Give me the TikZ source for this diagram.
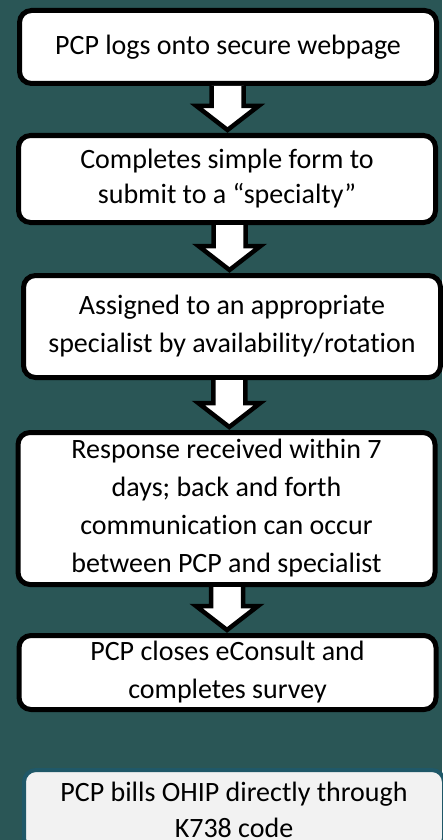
\documentclass[tikz,border=0pt]{standalone}
\usepackage{fontspec}
\setmainfont{Carlito}[Ligatures={NoCommon}]
\usepackage{tikz}
\usetikzlibrary{calc,positioning}

\definecolor{bgteal}{RGB}{42,86,86}
\definecolor{billedge}{RGB}{31,88,104}
\definecolor{billfill}{RGB}{242,242,242}

\tikzset{
	stepbox/.style={rectangle, draw, line width=5pt, fill=white, rounded corners=12pt, minimum width=417pt, align=center, font=\fontsize{28pt}{38pt}\selectfont},
	billbox/.style={stepbox, draw=billedge, fill=billfill, line width=4pt, font=\fontsize{28pt}{36pt}\selectfont},
	blockarrow/.style={draw=black, fill=white, line width=4.5pt}
}

% hollow block arrow from one box down to the next
\newcommand\flowdown[2]{%
	\filldraw[blockarrow] let \p1=($(#1.south)!0.5!(#2.north)$), \p2=(#1.south), \p3=(#2.north) in
	(\x1-16pt,\y2) -- (\x1-16pt,\y3+27pt) -- (\x1-31pt,\y3+27pt) -- (\x1,\y3+3pt)
	-- (\x1+31pt,\y3+27pt) -- (\x1+16pt,\y3+27pt) -- (\x1+16pt,\y2);
}

\begin{document}
\begin{tikzpicture}
				\useasboundingbox (0,0) rectangle (442pt,-840pt);
				\fill[bgteal] (0,0) rectangle (442pt,-840pt);
				
				\node[stepbox, minimum height=73pt] (login) at (228pt,-47pt) {PCP logs onto secure webpage};
				\node[stepbox, minimum height=87pt, below = 47pt of login, xshift=-1pt, font=\fontsize{28pt}{35pt}\selectfont] (form) {Completes simple form to\\ submit to a “specialty”};
				\node[stepbox, minimum height=102pt, below = 48pt of form, xshift=5pt] (assign) {Assigned to an appropriate\\ specialist by availability/rotation};
				\node[stepbox, minimum height=152pt, below = 50pt of assign, xshift=-5.5pt] (resp) {Response received within 7\\ days; back and forth\\ communication can occur\\ between PCP and specialist};
				\node[stepbox, minimum height=74pt, below = 46pt of resp, xshift=1pt] (close) {PCP closes eConsult and\\ completes survey};
				\node[billbox, minimum height=80pt, minimum width=420pt, below = 56pt of close, xshift=6.5pt] (bill) {PCP bills OHIP directly through\\ K738 code};
				
				\flowdown{login}{form}
				\flowdown{form}{assign}
				\flowdown{assign}{resp}
				\flowdown{resp}{close}
				\end{tikzpicture}
\end{document}
